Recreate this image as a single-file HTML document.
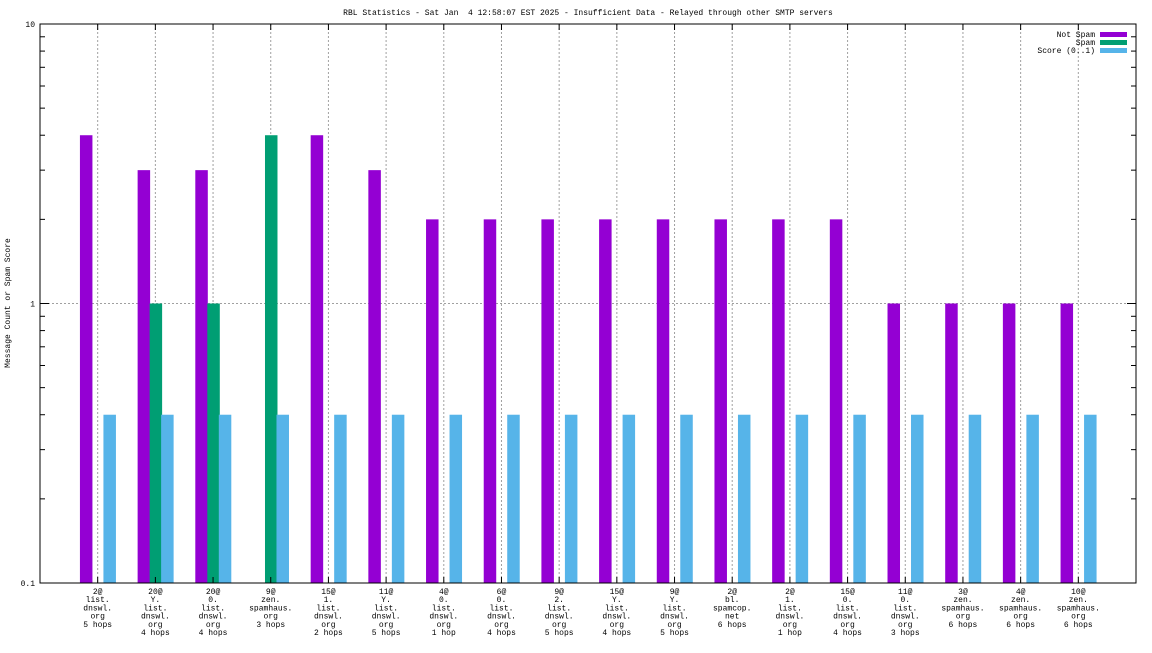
<!DOCTYPE html>
<html><head><meta charset="utf-8"><style>
body{margin:0;background:#fff}
svg text{font-family:"Liberation Mono",monospace;font-size:8px;fill:#000}
</style></head><body>
<svg id="c" width="1152" height="648" xmlns="http://www.w3.org/2000/svg">
<rect width="1152" height="648" fill="#fff"/>
<text x="588" y="15" text-anchor="middle" style="white-space:pre" xml:space="preserve">RBL Statistics - Sat Jan  4 12:58:07 EST 2025 - Insufficient Data - Relayed through other SMTP servers</text>
<text transform="translate(10,303) rotate(-90)" text-anchor="middle">Message Count or Spam Score</text>
<g id="grid"></g><g id="bars"></g><g id="axes"></g>
<g>
<text x="1095" y="37" text-anchor="end">Not Spam</text>
<rect x="1100" y="32" width="27" height="5" fill="#9400d3"/>
<text x="1095" y="45" text-anchor="end">Spam</text>
<rect x="1100" y="40" width="27" height="5" fill="#009e73"/>
<text x="1095" y="53" text-anchor="end">Score (0..1)</text>
<rect x="1100" y="48" width="27" height="5" fill="#56b4e9"/>
</g>
</svg>
<script>
const categories=[["2@","list.","dnswl.","org","5 hops"],["20@","Y.","list.","dnswl.","org","4 hops"],["20@","0.","list.","dnswl.","org","4 hops"],["9@","zen.","spamhaus.","org","3 hops"],["15@","1.","list.","dnswl.","org","2 hops"],["11@","Y.","list.","dnswl.","org","5 hops"],["4@","0.","list.","dnswl.","org","1 hop"],["6@","0.","list.","dnswl.","org","4 hops"],["9@","2.","list.","dnswl.","org","5 hops"],["15@","Y.","list.","dnswl.","org","4 hops"],["9@","Y.","list.","dnswl.","org","5 hops"],["2@","bl.","spamcop.","net","6 hops"],["2@","1.","list.","dnswl.","org","1 hop"],["15@","0.","list.","dnswl.","org","4 hops"],["11@","0.","list.","dnswl.","org","3 hops"],["3@","zen.","spamhaus.","org","6 hops"],["4@","zen.","spamhaus.","org","6 hops"],["10@","zen.","spamhaus.","org","6 hops"]];
const notSpam=[4,3,3,0,4,3,2,2,2,2,2,2,2,2,1,1,1,1];
const spam=[0,1,1,4,0,0,0,0,0,0,0,0,0,0,0,0,0,0];
const score=[0.4,0.4,0.4,0.4,0.4,0.4,0.4,0.4,0.4,0.4,0.4,0.4,0.4,0.4,0.4,0.4,0.4,0.4];
const yTicks=[10,1,0.1];
const yTickLabels=["10","1","0.1"];
const NS="http://www.w3.org/2000/svg";
const L=40,R=1136,T=24,B=583,yMin=0.1,yMax=10;
const step=(R-L)/(categories.length+1);
function xS(i){return L+step*(i+1);}
function yS(v){return B-(Math.log10(v)-Math.log10(yMin))/(Math.log10(yMax)-Math.log10(yMin))*(B-T);}
function mk(tag,attrs,parent){const e=document.createElementNS(NS,tag);for(const k in attrs)e.setAttribute(k,attrs[k]);parent.appendChild(e);return e;}
const grid=document.getElementById('grid'),bars=document.getElementById('bars'),axes=document.getElementById('axes');
yTicks.forEach((v,i)=>{
  if(v!==yMin&&v!==yMax){const g=mk('line',{x1:L,x2:R,y1:yS(v),y2:yS(v),stroke:'#a0a0a0','stroke-dasharray':'2,2'},grid);
  
  }
  const t=mk('text',{x:L-5,y:yS(v)+3,'text-anchor':'end'},axes);t.textContent=yTickLabels[i];
  
  
});
for(let d=-1;d<1;d++)for(let m=2;m<=9;m++){const y=yS(m*Math.pow(10,d));
  mk('line',{x1:L,x2:L+5,y1:y,y2:y,stroke:'#000'},axes);mk('line',{x1:R-5,x2:R,y1:y,y2:y,stroke:'#000'},axes);}
[yMin,1,yMax].forEach(v=>{const y=yS(v);mk('line',{x1:L,x2:L+9,y1:y,y2:y,stroke:'#000'},axes);mk('line',{x1:R-9,x2:R,y1:y,y2:y,stroke:'#000'},axes);});
const bw=12.5;
categories.forEach((c,i)=>{
  const x=xS(i);
  const g=mk('line',{x1:x,x2:x,y1:T,y2:B,stroke:'#a0a0a0','stroke-dasharray':'2,2'},grid);
  
  
  mk('line',{x1:x,x2:x,y1:B,y2:B-6,stroke:'#000'},axes);mk('line',{x1:x,x2:x,y1:T,y2:T+6,stroke:'#000'},axes);
  const series=[[notSpam,'#9400d3',-11.5,'bar-not-spam'],[spam,'#009e73',0.5,'bar-spam'],[score,'#56b4e9',12,'bar-score']];
  series.forEach(s=>{const v=s[0][i];if(v>yMin){const r=mk('rect',{x:x+s[2]-bw/2,y:yS(v),width:bw,height:B-yS(v),fill:s[1]},bars);
    
    }});
  const t=mk('text',{x:x,y:B+11,'text-anchor':'middle'},axes);
  
  
  c.forEach((ln,j)=>{const s=mk('tspan',{x:x,dy:j?8.2:0},t);s.textContent=ln;});
});
mk('rect',{x:L,y:T,width:R-L,height:B-T,fill:'none',stroke:'#000','stroke-width':1},axes);
</script>
</body></html>
